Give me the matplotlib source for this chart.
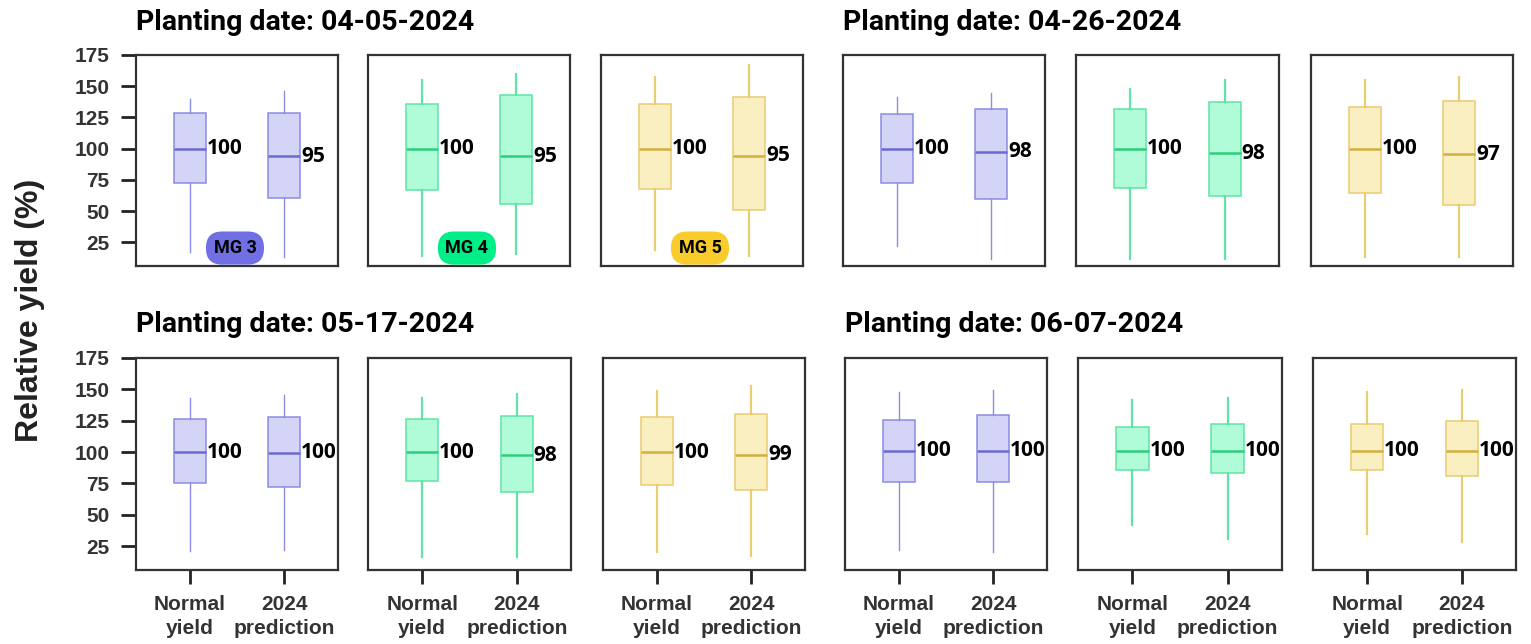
import matplotlib
matplotlib.use("Agg")
import matplotlib.pyplot as plt

dates = ["04-05-2024", "04-26-2024", "05-17-2024", "06-07-2024"]
groups = ["MG 3", "MG 4", "MG 5"]
categories = ["Normal\nyield", "2024\nprediction"]

# values, shaped [date][maturity group][normal, 2024]
whisker_lo = [
    [[17, 13.5], [14, 16], [19, 14]],
    [[22, 12], [12, 12], [13.5, 13.5]],
    [[21, 22], [16.5, 16], [20, 17]],
    [[22, 20], [41.5, 31], [35, 28]],
]
q1 = [
    [[72.5, 60.5], [66.5, 55.5], [67.5, 51]],
    [[72.5, 60], [68.5, 62], [64.5, 55]],
    [[75, 72.5], [77, 68.5], [74, 70]],
    [[76, 76], [86, 83], [85.5, 81]],
]
median = [
    [[100, 94], [100, 94], [100, 94.5]],
    [[100, 97.5], [100, 96.5], [100, 95.5]],
    [[100, 99.5], [100, 97.5], [100, 98]],
    [[101, 101], [101, 101], [101, 101]],
]
q3 = [
    [[128.5, 128.5], [136, 143], [136, 141]],
    [[127.5, 131.5], [132, 137], [133, 138]],
    [[126.5, 128], [126.5, 129], [128, 130.5]],
    [[125.5, 129.5], [120, 122.5], [122.5, 124.5]],
]
whisker_hi = [
    [[139.5, 146.5], [155, 160], [157, 167]],
    [[141.5, 144.5], [148, 155], [155, 157]],
    [[143, 145.5], [143, 146], [149, 152.5]],
    [[148, 149.5], [141.5, 143], [147.5, 149.5]],
]
labels = [
    [[100, 95], [100, 95], [100, 95]],
    [[100, 98], [100, 98], [100, 97]],
    [[100, 100], [100, 98], [100, 99]],
    [[100, 100], [100, 100], [100, 100]],
]
yticks = [25, 50, 75, 100, 125, 150, 175]

fills = ["#d4d4f6", "#b0fbd8", "#faefc0"]
edges = ["#8c8ce2", "#5ee4a4", "#e8cd72"]
medcols = ["#6a6ad0", "#2ece7c", "#d2b040"]
whisk_lw = [1.0, 1.6, 1.6]
badge_cols = ["#7070e4", "#00ee88", "#f8cc2c"]

W, H = 1531, 644
fig = plt.figure(figsize=(W / 100, H / 100), dpi=100)

# panel pixel boxes: (left, right) per column, (top, bottom) per row
cols_px = [[(136, 338), (368, 570), (601, 803), (843, 1045), (1076, 1279), (1311, 1513)],
           [(136, 338), (368, 571), (603, 805), (845, 1047), (1078, 1282), (1313, 1516)]]
rows_px = [(55, 266), (358, 570)]

for d, date in enumerate(dates):
    row = d // 2
    half = d % 2
    for g in range(3):
        c = half * 3 + g
        l, r = cols_px[row][c]
        t, b = rows_px[row]
        ax = fig.add_axes([l / W, 1 - b / H, (r - l) / W, (b - t) / H])
        stats = []
        for k in range(2):
            stats.append(dict(whislo=whisker_lo[d][g][k], q1=q1[d][g][k], med=median[d][g][k],
                              q3=q3[d][g][k], whishi=whisker_hi[d][g][k], fliers=[]))
        ax.bxp(stats, positions=[1, 2], widths=0.34, patch_artist=True, showcaps=False,
               boxprops=dict(facecolor=fills[g], edgecolor=edges[g], linewidth=1.1),
               whiskerprops=dict(color=edges[g], linewidth=whisk_lw[g]),
               medianprops=dict(color=medcols[g], linewidth=1.8))
        for k in range(2):
            ax.text(1 + k + 0.18, median[d][g][k], str(labels[d][g][k]), ha="left", va="center",
                    fontsize=15, fontweight="bold", family="Open Sans", color="black")
        ax.set_xlim(0.427, 2.573)
        ax.set_ylim(6, 175)
        for s in ax.spines.values():
            s.set_color("#333333")
            s.set_linewidth(1.6)
        if c == 0:
            ax.set_yticks(yticks)
            ax.set_yticklabels([str(v) for v in yticks], fontsize=15, fontweight="bold",
                               family="Liberation Sans", color="#333333")
            ax.tick_params(axis="y", length=11, width=2, color="#222222", pad=8)
        else:
            ax.set_yticks([])
        if row == 1:
            ax.set_xticks([1, 2])
            ax.set_xticklabels(categories, fontsize=15, fontweight="bold",
                               family="Liberation Sans", color="#333333", linespacing=1.32)
            ax.tick_params(axis="x", length=10, width=2, color="#222222", pad=8)
        else:
            ax.set_xticks([])
        if d == 0:
            ax.text(0.49, 0.085, groups[g], transform=ax.transAxes, ha="center", va="center",
                    fontsize=13, fontweight="bold", family="Roboto", color="black",
                    bbox=dict(boxstyle="round,pad=0.42,rounding_size=0.9",
                              facecolor=badge_cols[g], edgecolor="none"))
        if g == 0:
            ax.text(0, 1 + 33 / (b - t), "Planting date: " + date, transform=ax.transAxes,
                    ha="left", va="center", fontsize=20.5, fontweight="bold", family="Roboto")
    
fig.text(30 / W, 1 - 310 / H, "Relative yield (%)", rotation=90, ha="center", va="center",
         fontsize=23, fontweight="bold", family="Liberation Sans", color="#222222")

fig.savefig("out.png", dpi=100)
